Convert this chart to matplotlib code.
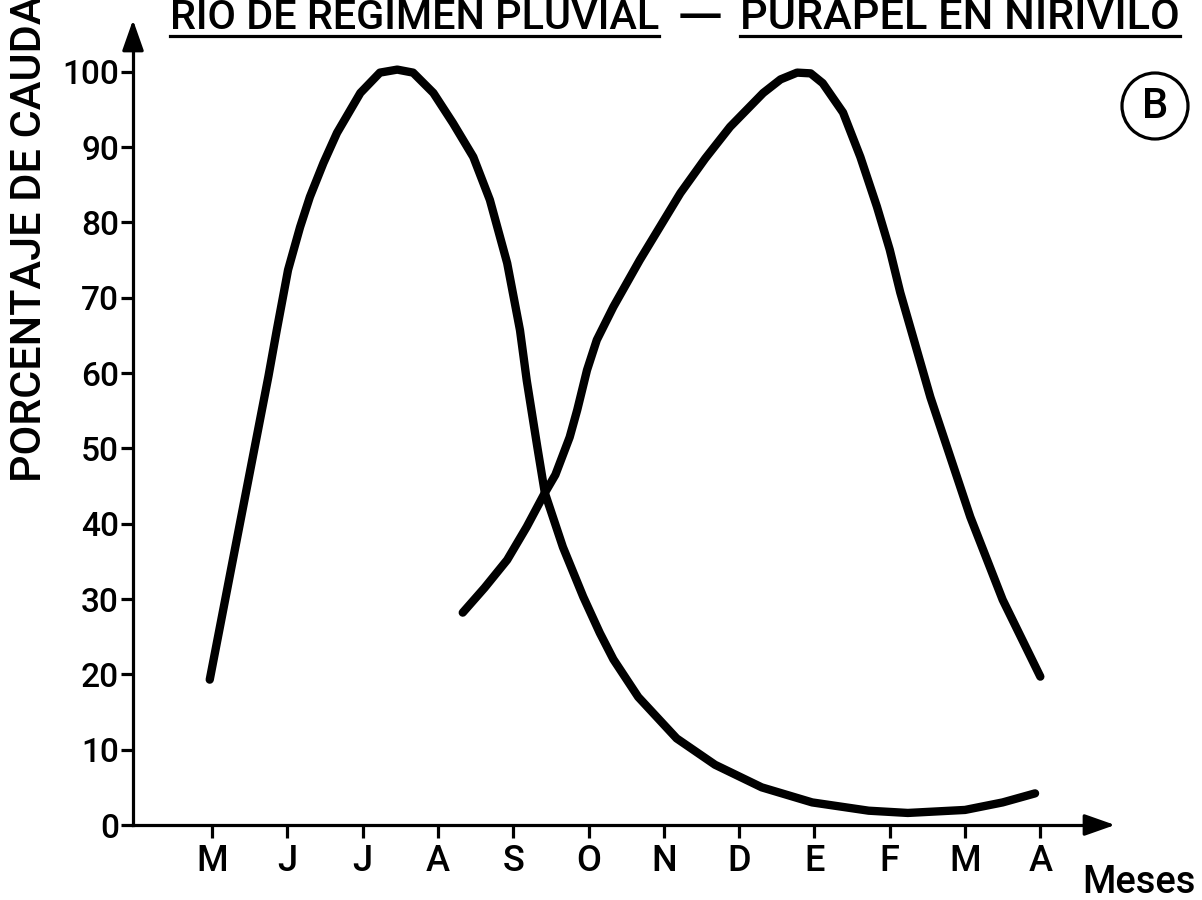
import matplotlib
matplotlib.use("Agg")
import matplotlib.pyplot as plt
from matplotlib.lines import Line2D

plt.rcParams["font.family"] = ["Roboto", "DejaVu Sans"]
plt.rcParams["font.weight"] = 500

months = ["M", "J", "J", "A", "S", "O", "N", "D", "E", "F", "M", "A"]
y_ticks = [0, 10, 20, 30, 40, 50, 60, 70, 80, 90, 100]

# rio de regimen pluvial (peak in July), x = month index (M = 0)
pluvial_x = [-0.03, 0.25, 0.5, 0.75, 0.86, 1.01, 1.17, 1.30, 1.48, 1.66, 1.97, 2.23,
             2.46, 2.67, 2.94, 3.2, 3.47, 3.69, 3.92, 4.09, 4.18, 4.32, 4.42, 4.66,
             4.93, 5.15, 5.33, 5.66, 6.17, 6.68, 7.30, 7.97, 8.72, 9.24, 10.0, 10.5,
             10.93]
pluvial_y = [19.3, 33.8, 46.7, 59.6, 65.7, 73.7, 79.4, 83.4, 87.9, 91.9, 97.2, 99.9,
             100.3, 99.9, 97.2, 93.2, 88.7, 83.0, 74.6, 65.7, 59.0, 50.2, 44.1, 36.9,
             30.3, 25.5, 22.0, 17.0, 11.5, 8.0, 5.0, 3.0, 1.9, 1.6, 2.0, 3.0,
             4.2]

# Purapel en Nirivilo (peak in January)
purapel_x = [3.33, 3.62, 3.92, 4.18, 4.42, 4.56, 4.75, 4.85, 4.98, 5.11, 5.33, 5.68,
             6.22, 6.55, 6.88, 7.32, 7.55, 7.77, 7.95, 8.11, 8.38, 8.61, 8.83, 9.0,
             9.14, 9.31, 9.54, 10.07, 10.5, 11.0]
purapel_y = [28.2, 31.5, 35.2, 39.6, 44.1, 46.5, 51.5, 55.1, 60.4, 64.4, 68.8, 75.0,
             83.9, 88.5, 92.7, 97.2, 99.0, 99.9, 99.8, 98.5, 94.6, 88.7, 82.1, 76.4,
             70.7, 64.8, 56.8, 40.9, 29.9, 19.7]

W, H = 1202, 900
fig = plt.figure(figsize=(W / 100, H / 100), dpi=100)
ax = fig.add_axes([133 / W, 75 / H, (1088 - 133) / W, (825 - 44) / H])
ax.set_xlim(-1.049, 11.633)
ax.set_ylim(0, 103.7)

for xs, ys in [(pluvial_x, pluvial_y), (purapel_x, purapel_y)]:
    ax.plot(xs, ys, color="black", lw=6, solid_capstyle="round",
            solid_joinstyle="round", clip_on=False)

for s in ["top", "right"]:
    ax.spines[s].set_visible(False)
for s in ["left", "bottom"]:
    ax.spines[s].set_linewidth(2.3)

ax.set_xticks(range(len(months)))
ax.set_xticklabels(months)
ax.set_yticks(y_ticks)
ax.set_yticklabels([str(v) for v in y_ticks])
ax.tick_params(axis="both", direction="out", width=2.3, length=9, color="black")
ax.tick_params(axis="x", labelsize=26, pad=5)
ax.tick_params(axis="y", labelsize=24, pad=1)

arrow = dict(arrowstyle="-|>,head_length=0.85,head_width=0.3", color="black",
             lw=2.3, mutation_scale=22, shrinkA=0, shrinkB=0)
ax.annotate("", xy=(0.0, 1 + 24 / 781), xytext=(0.0, 1.0),
            xycoords="axes fraction", textcoords="axes fraction", arrowprops=arrow)
ax.annotate("", xy=(1 + 27 / 955, 0.0), xytext=(1.0, 0.0),
            xycoords="axes fraction", textcoords="axes fraction", arrowprops=arrow)

ylab = fig.text(30 / W, 1 - 482 / H, "PORCENTAJE DE CAUDAL", rotation=90,
                ha="center", va="bottom", fontsize=30)
meses = fig.text(1082 / W, 1 - 893 / H, "Meses", ha="left", va="baseline", fontsize=30)
fig.text(1155 / W, 1 - 106 / H, "B", ha="center", va="center", fontsize=30,
         bbox=dict(boxstyle="circle,pad=0.3", fc="none", ec="black", lw=2.3))

t1 = fig.text(170 / W, 1 - 29 / H, "RIO DE REGIMEN PLUVIAL", ha="left",
              va="baseline", fontsize=30)
dash = fig.text(700 / W, 1 - 38 / H, "\u2014", ha="center", va="baseline",
                fontsize=30, fontweight="normal")
t2 = fig.text(740 / W, 1 - 29 / H, "PURAPEL EN NIRIVILO", ha="left",
              va="baseline", fontsize=30)

# scale the lettering so each text covers the same span as in the drawing
fig.canvas.draw()
r = fig.canvas.get_renderer()
for t, span, vertical in [(t1, 490, False), (t2, 440, False), (dash, 48, False),
                          (meses, 113, False), (ylab, 510, True)]:
    bb = t.get_window_extent(r)
    size = bb.height if vertical else bb.width
    t.set_fontsize(t.get_fontsize() * span / size)

fig.canvas.draw()
for t in (t1, t2):
    bb = t.get_window_extent(r)
    fig.add_artist(Line2D([bb.x0 / W, bb.x1 / W], [(H - 36) / H, (H - 36) / H],
                          transform=fig.transFigure, color="black", lw=2.3))

fig.savefig("out.png", dpi=100)
